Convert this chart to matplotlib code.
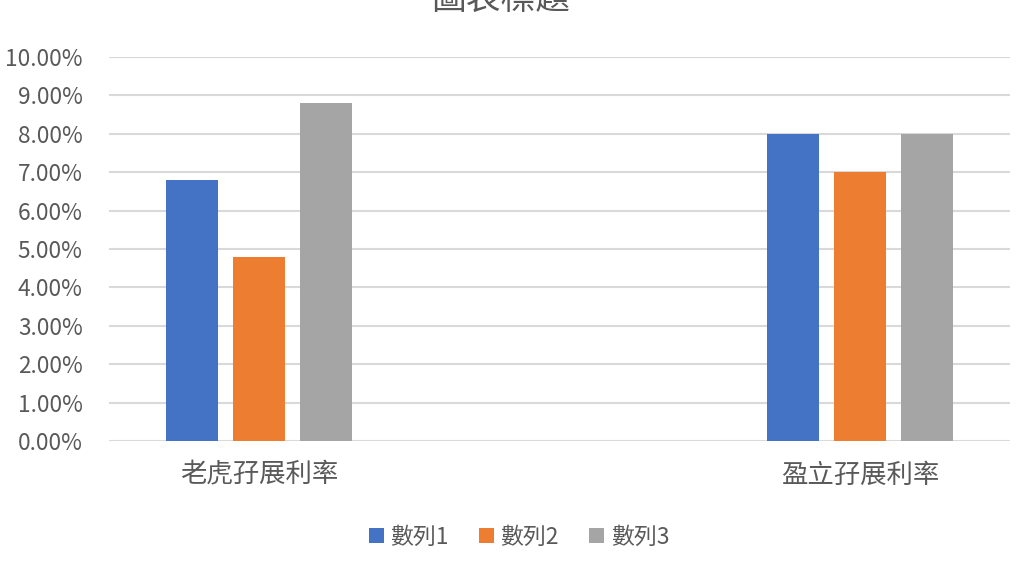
import matplotlib
matplotlib.use("Agg")
import matplotlib.pyplot as plt
from matplotlib.ticker import FuncFormatter
import numpy as np

plt.rcParams['font.family'] = ['Noto Sans CJK TC', 'DejaVu Sans']

categories = ['老虎孖展利率', '盈立孖展利率']
series_names = ['數列1', '數列2', '數列3']
series1 = [0.068, 0.080]
series2 = [0.048, 0.070]
series3 = [0.088, 0.080]
colors = ['#4472C4', '#ED7D31', '#A5A5A5']
title = '圖表標題'

fig = plt.figure(figsize=(10.24, 5.64), dpi=100)
ax = fig.add_axes([109/1024, 1 - 441/564, (1010 - 109)/1024, (441 - 57)/564])

x = np.arange(len(categories))
width = 0.0866
step = 0.1116
for i, (vals, name, c) in enumerate(zip([series1, series2, series3], series_names, colors)):
    ax.bar(x + (i - 1) * step, vals, width=width, color=c, label=name, zorder=3)

ax.set_xlim(-0.25, 1.25)
ax.set_ylim(0, 0.10)
ax.set_yticks(np.arange(0, 0.1001, 0.01))
ax.yaxis.set_major_formatter(FuncFormatter(lambda v, p: f'{v*100:.2f}%'))
ax.set_xticks(x)
ax.set_xticklabels(categories)
ax.grid(axis='y', color='#D9D9D9', linewidth=1.5, zorder=0)
for s in ax.spines.values():
    s.set_visible(False)
ax.tick_params(axis='both', length=0, colors='#595959', labelsize=16.3)
ax.tick_params(axis='x', pad=15, labelsize=19)
ax.tick_params(axis='y', pad=19)

fig.text(501/1024, 1 + 1/564, title, ha='center', va='center', fontsize=25, color='#595959')

fig.legend(loc='center', bbox_to_anchor=(519/1024, 1 - 537/564), ncol=3, frameon=False,
           fontsize=16.5, labelcolor='#595959', handlelength=0.65, handleheight=0.65,
           handletextpad=0.3, columnspacing=1.3)

fig.savefig('out.png', dpi=100)
